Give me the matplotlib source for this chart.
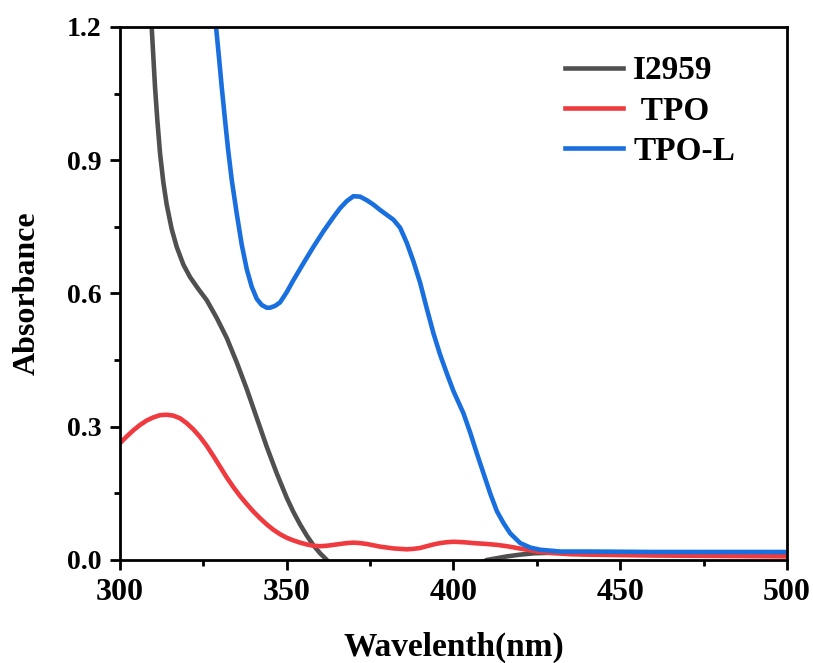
import matplotlib
matplotlib.use('Agg')
import matplotlib.pyplot as plt
from matplotlib.ticker import MultipleLocator, FormatStrFormatter

# I2959
wl_i2959 = [309.5, 310.5, 311.2, 312, 313, 314, 315.5, 317, 319, 321, 323.5, 326, 329, 332,
            335, 338, 341, 344, 347, 350, 352, 354, 356, 358, 360, 361.5, 363, 366, 370,
            390, 405, 408, 410, 413, 416, 420, 424, 428, 432, 440, 460, 480, 500]
abs_i2959 = [1.20, 1.065, 0.99, 0.916, 0.85, 0.80, 0.745, 0.705, 0.665, 0.637, 0.61, 0.585,
             0.545, 0.50, 0.445, 0.385, 0.32, 0.255, 0.195, 0.14, 0.108, 0.08, 0.055, 0.033,
             0.015, 0.004, -0.008, -0.025, -0.04, -0.04, -0.02, -0.008, 0.0, 0.004, 0.008,
             0.012, 0.015, 0.016, 0.016, 0.015, 0.013, 0.012, 0.012]

# TPO
wl_tpo = [300, 302, 304, 306, 308, 310, 312, 314, 316, 318, 320, 322, 324, 326, 328, 330,
          332, 334, 336, 338, 340, 342, 344, 346, 348, 350, 352, 354, 356, 358, 360, 362,
          364, 366, 368, 370, 372, 374, 376, 378, 380, 382, 384, 386, 388, 390, 392, 394,
          396, 398, 400, 403, 406, 410, 413, 416, 419, 422, 425, 429, 435, 440, 450, 460,
          480, 500]
abs_tpo = [0.263, 0.278, 0.292, 0.304, 0.314, 0.321, 0.326, 0.327, 0.325, 0.319, 0.308,
           0.294, 0.277, 0.257, 0.234, 0.21, 0.186, 0.164, 0.144, 0.126, 0.109, 0.094,
           0.080, 0.068, 0.058, 0.050, 0.044, 0.039, 0.035, 0.032, 0.031, 0.032, 0.034,
           0.036, 0.038, 0.039, 0.038, 0.036, 0.033, 0.030, 0.028, 0.026, 0.025, 0.024,
           0.025, 0.027, 0.031, 0.035, 0.038, 0.040, 0.041, 0.040, 0.038, 0.036, 0.034,
           0.031, 0.027, 0.023, 0.019, 0.016, 0.013, 0.012, 0.011, 0.010, 0.009, 0.008]

# TPO-L
wl_tpol = [328.8, 329.7, 330.5, 331.5, 332.4, 333.5, 335, 336.5, 338, 339.5, 341, 342.5,
           344, 345, 346.5, 348, 350, 352, 355, 358, 361, 364, 366, 368, 370, 372, 374,
           376, 378, 380, 382, 384, 386, 388, 390, 392, 394, 396, 398, 400, 403, 405, 407,
           409, 411, 413, 415, 417, 420, 423, 426, 432, 440, 460, 480, 500]
abs_tpol = [1.20, 1.13, 1.065, 0.99, 0.925, 0.856, 0.78, 0.71, 0.655, 0.615, 0.588, 0.574,
            0.568, 0.568, 0.572, 0.58, 0.603, 0.63, 0.668, 0.705, 0.74, 0.772, 0.792, 0.808,
            0.819, 0.818, 0.81, 0.80, 0.788, 0.777, 0.766, 0.748, 0.714, 0.672, 0.624, 0.566,
            0.51, 0.462, 0.42, 0.38, 0.33, 0.287, 0.24, 0.195, 0.15, 0.11, 0.083, 0.06,
            0.038, 0.028, 0.023, 0.019, 0.019, 0.018, 0.018, 0.018]

plt.rcParams['font.family'] = ['Liberation Serif', 'DejaVu Serif']
plt.rcParams['font.weight'] = 'bold'

fig = plt.figure(figsize=(8.13, 6.63), dpi=100)
ax = fig.add_axes([0.1476, 0.1554, 0.8204, 0.8039])

ax.plot(wl_i2959, abs_i2959, color='#505050', linewidth=3.3, label='I2959')
ax.plot(wl_tpo, abs_tpo, color='#ef3b3f', linewidth=3.3, label=' TPO')
ax.plot(wl_tpol, abs_tpol, color='#1a6fdf', linewidth=3.3, label='TPO-L')

ax.set_xlim(300, 500)
ax.set_ylim(0, 1.2)
ax.xaxis.set_major_locator(MultipleLocator(50))
ax.xaxis.set_minor_locator(MultipleLocator(25))
ax.yaxis.set_major_locator(MultipleLocator(0.3))
ax.yaxis.set_minor_locator(MultipleLocator(0.15))
ax.yaxis.set_major_formatter(FormatStrFormatter('%.1f'))

for s in ax.spines.values():
    s.set_linewidth(2)
ax.tick_params(which='major', direction='out', length=7, width=2, pad=6)
ax.tick_params(which='minor', direction='out', length=4.5, width=2)
ax.tick_params(axis='x', labelsize=23)
ax.tick_params(axis='y', labelsize=20)
for lab in ax.get_xticklabels() + ax.get_yticklabels():
    lab.set_fontweight('bold')

ax.set_xlabel('Wavelenth(nm)', fontsize=24, fontweight='bold', labelpad=18)
ax.set_ylabel('Absorbance', fontsize=23, fontweight='bold', labelpad=18)

ax.legend(loc='upper left', frameon=False, fontsize=24, handlelength=1.75,
          handletextpad=0.3, labelspacing=0.28, borderaxespad=0, borderpad=0,
          bbox_to_anchor=(0.667, 0.947))

fig.savefig('out.png', dpi=100)
